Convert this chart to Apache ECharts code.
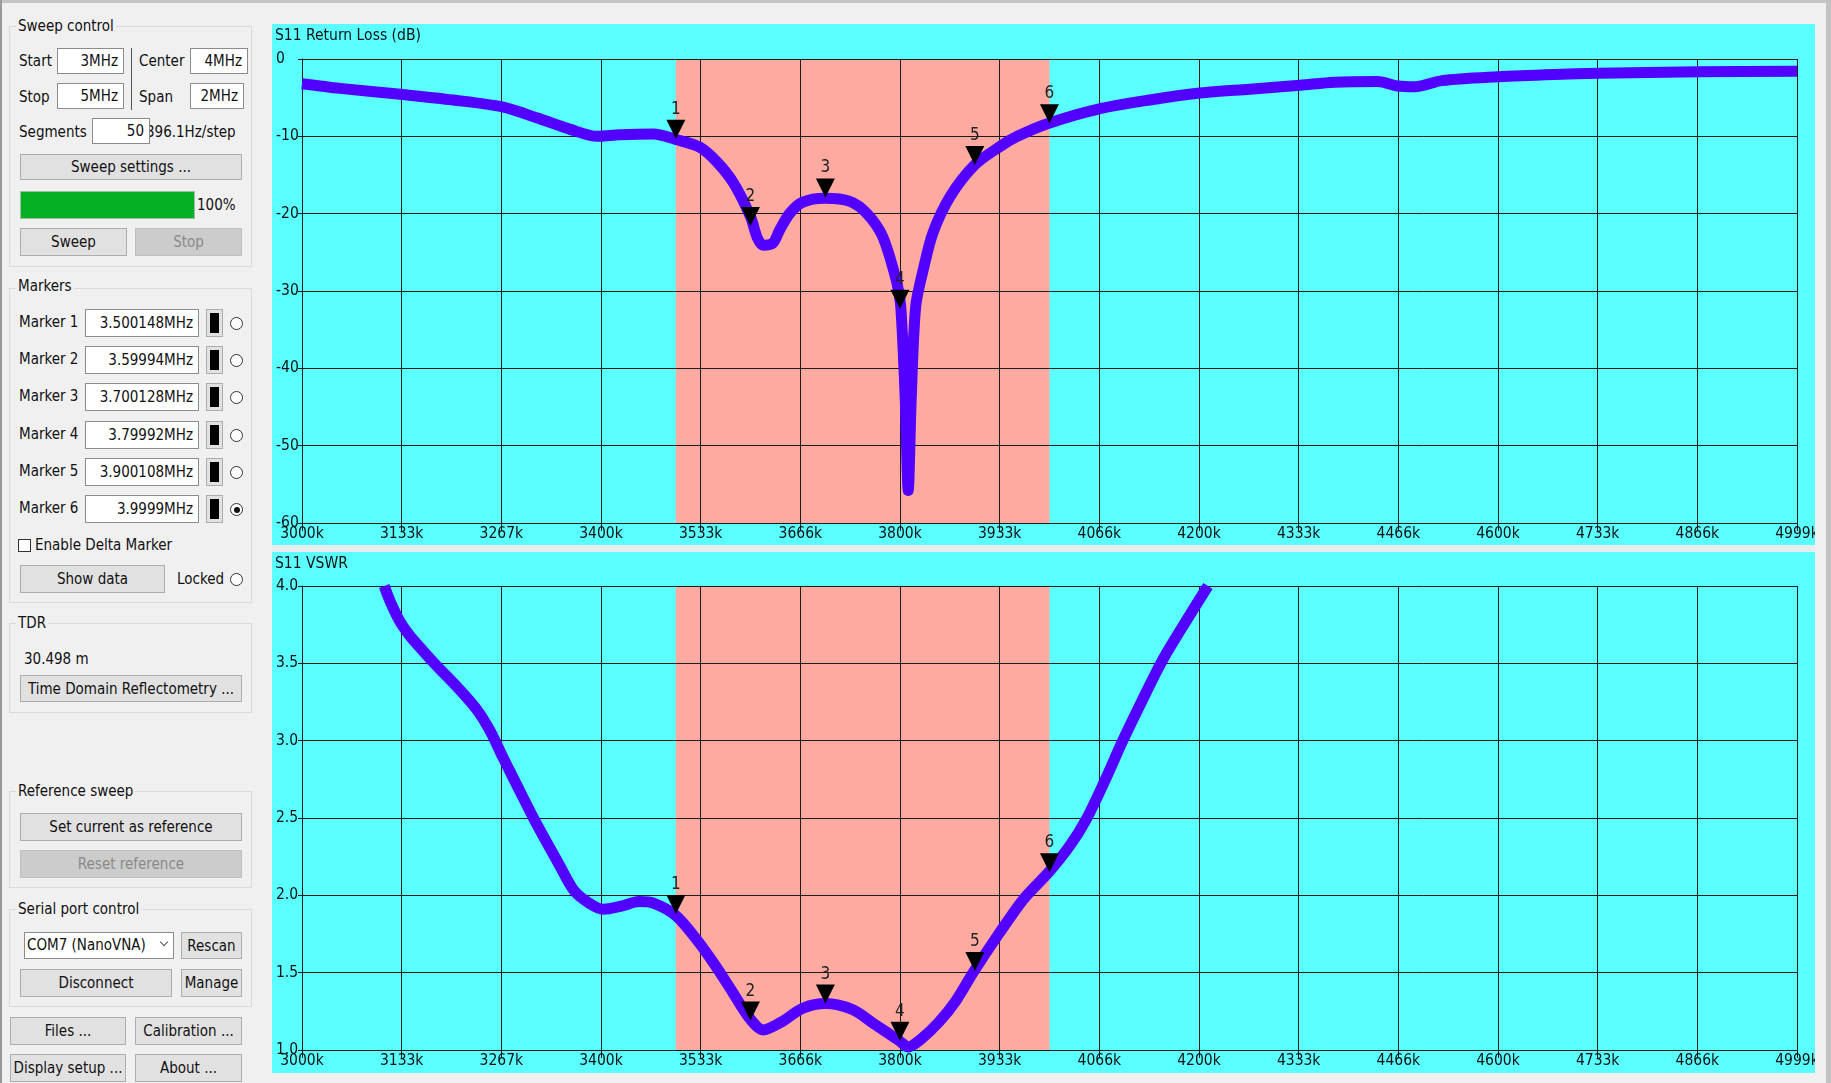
<!DOCTYPE html>
<html>
<head>
<meta charset="utf-8">
<script src="https://cdn.jsdelivr.net/npm/echarts@6/dist/echarts.min.js"></script>
<style>
html,body{margin:0;padding:0}
body{width:1831px;height:1083px;background:#f0f0f0;overflow:hidden;position:relative;
 font-family:'DejaVu Sans Condensed','DejaVu Sans',sans-serif;font-stretch:condensed;font-size:15px;color:#111}
.a{position:absolute;white-space:nowrap;line-height:17px}
.g{position:absolute;border:1px solid #dadada;box-sizing:border-box}
.gt{position:absolute;background:#f0f0f0;padding:0 2px;line-height:17px;white-space:nowrap}
.in{position:absolute;background:#fff;border:1px solid #8c8c8c;box-sizing:border-box;display:flex;align-items:center;justify-content:flex-end;padding-right:5px;white-space:nowrap}
.bt{position:absolute;background:#e1e1e1;border:1px solid #adadad;box-sizing:border-box;display:flex;align-items:center;justify-content:center;white-space:nowrap}
.ds{background:#cccccc;border-color:#bfbfbf;color:#8a8a8a}
.rd{position:absolute;width:13px;height:13px;border:1px solid #333;border-radius:50%;box-sizing:border-box;background:#fff}
.rd.on::after{content:"";position:absolute;left:2.5px;top:2.5px;width:6px;height:6px;border-radius:50%;background:#111}
.sw{position:absolute;width:17px;height:28px;background:#e1e1e1;border:1px solid #adadad;box-sizing:border-box}
.sw::after{content:"";position:absolute;left:3px;top:3px;width:9px;height:20px;background:#000}
.chart{position:absolute;background:#5affff}
</style>
</head>
<body>
<!-- window frame bits -->
<div style="position:absolute;left:0;top:0;width:1831px;height:3px;background:#c4c4c4"></div>
<div style="position:absolute;left:0;top:0;width:2px;height:1083px;background:#9a9a9a"></div>
<div style="position:absolute;left:1826px;top:0;width:5px;height:1083px;background:#c2c2c2"></div>
<div style="position:absolute;left:272px;top:545px;width:1543px;height:7px;background:#e8eeee"></div>

<!-- Sweep control -->
<div class="g" style="left:9px;top:26px;width:243px;height:241px"></div>
<div class="gt" style="left:16px;top:18px">Sweep control</div>
<div class="a" style="left:19px;top:53px">Start</div>
<div class="in" style="left:57px;top:48px;width:67px;height:26px">3MHz</div>
<div style="position:absolute;left:131px;top:48px;width:1px;height:62px;background:#555"></div>
<div class="a" style="left:139px;top:53px">Center</div>
<div class="in" style="left:190px;top:48px;width:58px;height:26px">4MHz</div>
<div class="a" style="left:19px;top:89px">Stop</div>
<div class="in" style="left:57px;top:83px;width:67px;height:26px">5MHz</div>
<div class="a" style="left:139px;top:89px">Span</div>
<div class="in" style="left:190px;top:83px;width:54px;height:26px">2MHz</div>
<div class="a" style="left:19px;top:124px">Segments</div>
<div class="a" style="left:146px;top:124px">396.1Hz/step</div>
<div class="in" style="left:92px;top:118px;width:58px;height:26px">50</div>
<div class="bt" style="left:20px;top:154px;width:222px;height:26px">Sweep settings ...</div>
<div style="position:absolute;left:20px;top:191px;width:175px;height:28px;background:#06b025;border:1px solid #9fbfa5;box-sizing:border-box"></div>
<div class="a" style="left:197px;top:197px">100%</div>
<div class="bt" style="left:20px;top:228px;width:107px;height:28px">Sweep</div>
<div class="bt ds" style="left:135px;top:228px;width:107px;height:28px">Stop</div>

<!-- Markers -->
<div class="g" style="left:9px;top:288px;width:243px;height:315px"></div>
<div class="gt" style="left:16px;top:278px">Markers</div>
<div id="markerRows"></div>
<div style="position:absolute;left:18px;top:539px;width:13px;height:13px;border:1px solid #333;box-sizing:border-box;background:#fff"></div>
<div class="a" style="left:35px;top:537px">Enable Delta Marker</div>
<div class="bt" style="left:20px;top:565px;width:145px;height:28px">Show data</div>
<div class="a" style="left:177px;top:571px">Locked</div>
<div class="rd" style="left:230px;top:573px"></div>

<!-- TDR -->
<div class="g" style="left:9px;top:623px;width:243px;height:90px"></div>
<div class="gt" style="left:16px;top:615px">TDR</div>
<div class="a" style="left:24px;top:651px">30.498 m</div>
<div class="bt" style="left:20px;top:675px;width:222px;height:27px">Time Domain Reflectometry ...</div>

<!-- Reference sweep -->
<div class="g" style="left:9px;top:791px;width:243px;height:97px"></div>
<div class="gt" style="left:16px;top:783px">Reference sweep</div>
<div class="bt" style="left:20px;top:813px;width:222px;height:28px">Set current as reference</div>
<div class="bt ds" style="left:20px;top:850px;width:222px;height:28px">Reset reference</div>

<!-- Serial port control -->
<div class="g" style="left:9px;top:909px;width:243px;height:98px"></div>
<div class="gt" style="left:16px;top:901px">Serial port control</div>
<div style="position:absolute;left:24px;top:932px;width:150px;height:27px;background:#fff;border:1px solid #8c8c8c;box-sizing:border-box"></div>
<div class="a" style="left:27px;top:937px">COM7 (NanoVNA)</div>
<div style="position:absolute;left:161px;top:939px;width:5px;height:5px;border-right:1px solid #555;border-bottom:1px solid #555;transform:rotate(45deg)"></div>
<div class="bt" style="left:181px;top:932px;width:61px;height:27px">Rescan</div>
<div class="bt" style="left:20px;top:969px;width:152px;height:28px">Disconnect</div>
<div class="bt" style="left:181px;top:969px;width:61px;height:28px">Manage</div>

<div class="bt" style="left:10px;top:1017px;width:116px;height:28px">Files ...</div>
<div class="bt" style="left:135px;top:1017px;width:107px;height:28px">Calibration ...</div>
<div class="bt" style="left:10px;top:1054px;width:116px;height:28px">Display setup ...</div>
<div class="bt" style="left:135px;top:1054px;width:107px;height:28px">About ...</div>

<div id="c1" class="chart" style="left:272px;top:24px;width:1543px;height:521px"></div>
<div id="c2" class="chart" style="left:272px;top:552px;width:1543px;height:521px"></div>

<script>
// ---------------- data ----------------
const sweepStartMHz = 3.0;
const sweepStopMHz = 5.0;
const xDivisions = 15;
const xTickLabels = ['3000k','3133k','3267k','3400k','3533k','3666k','3800k','3933k',
  '4066k','4200k','4333k','4466k','4600k','4733k','4866k','4999k'];
const bandMHz = [3.5, 4.0];

const markerNames = ['1','2','3','4','5','6'];
const markerLabels = ['Marker 1','Marker 2','Marker 3','Marker 4','Marker 5','Marker 6'];
const markerFreqText = ['3.500148MHz','3.59994MHz','3.700128MHz','3.79992MHz','3.900108MHz','3.9999MHz'];
const markerFreqMHz = [3.500148, 3.59994, 3.700128, 3.79992, 3.900108, 3.9999];
const markerRL = [-10.3, -21.6, -17.9, -32.3, -13.7, -8.3];
const markerVSWR = [1.88, 1.19, 1.30, 1.06, 1.51, 2.15];

const rlFreqMHz = [3.000, 3.051, 3.135, 3.202, 3.268, 3.314, 3.359, 3.395, 3.425, 3.470,
  3.500, 3.532, 3.555, 3.577, 3.600, 3.609, 3.617, 3.630, 3.639, 3.653,
  3.670, 3.700, 3.733, 3.756, 3.777, 3.796, 3.801, 3.807, 3.811, 3.815,
  3.821, 3.831, 3.844, 3.867, 3.900, 3.934, 3.957, 3.999, 4.064, 4.134,
  4.201, 4.268, 4.335, 4.381, 4.439, 4.466, 4.489, 4.525, 4.600, 4.675,
  4.734, 4.868, 5.000];
const rlDb = [-3.2, -3.8, -4.6, -5.3, -6.2, -7.6, -9.1, -10.0, -9.8, -9.7,
  -10.4, -11.4, -13.3, -16.0, -20.4, -23.1, -24.1, -23.8, -22.1, -19.9,
  -18.5, -18.0, -18.4, -20.0, -23.0, -29.0, -32.0, -44.0, -55.8, -44.0,
  -32.0, -27.3, -22.5, -17.8, -13.7, -11.3, -10.0, -8.3, -6.5, -5.3,
  -4.4, -3.9, -3.4, -3.0, -2.9, -3.5, -3.6, -2.8, -2.3, -2.0,
  -1.85, -1.65, -1.6];

const vswrFreqMHz = [3.110, 3.118, 3.131, 3.144, 3.162, 3.181, 3.207, 3.234, 3.252, 3.269,
  3.296, 3.314, 3.345, 3.364, 3.384, 3.403, 3.427, 3.451, 3.470, 3.500,
  3.527, 3.551, 3.574, 3.598, 3.617, 3.641, 3.670, 3.701, 3.737, 3.765,
  3.799, 3.811, 3.828, 3.852, 3.875, 3.899, 3.932, 3.966, 3.999, 4.027,
  4.049, 4.073, 4.098, 4.124, 4.150, 4.181, 4.212];
const vswr = [4.00, 3.90, 3.77, 3.68, 3.58, 3.48, 3.35, 3.20, 3.06, 2.89,
  2.63, 2.46, 2.19, 2.03, 1.95, 1.91, 1.93, 1.96, 1.95, 1.87,
  1.72, 1.56, 1.39, 1.21, 1.13, 1.18, 1.27, 1.30, 1.26, 1.17,
  1.06, 1.02, 1.07, 1.18, 1.32, 1.51, 1.75, 1.98, 2.15, 2.32,
  2.49, 2.73, 3.00, 3.26, 3.51, 3.76, 4.00];

// ---------------- left panel marker rows ----------------
const rowCenters = [323, 360, 397, 435, 472, 509];
let rowsHtml = '';
markerLabels.forEach((lab, i) => {
  const c = rowCenters[i];
  rowsHtml += `<div class="a" style="left:19px;top:${c-9}px">${lab}</div>`;
  rowsHtml += `<div class="in" style="left:85px;top:${c-14}px;width:114px;height:28px">${markerFreqText[i]}</div>`;
  rowsHtml += `<div class="sw" style="left:206px;top:${c-14}px"></div>`;
  rowsHtml += `<div class="rd${i===5?' on':''}" style="left:230px;top:${c-6}px"></div>`;
});
document.getElementById('markerRows').innerHTML = rowsHtml;

// ---------------- charts ----------------
const FONT = "'DejaVu Sans Condensed','DejaVu Sans',sans-serif";
const GRID_COLOR = '#1c1c1c';
const TRACE_COLOR = '#5200ff';
const BAND_COLOR = '#ffaaa0';
const divPerMHz = xDivisions / (sweepStopMHz - sweepStartMHz);
const toDiv = f => (f - sweepStartMHz) * divPerMHz;

function buildOption(title, yMin, yMax, yStep, yFmt, freqs, vals, mVals, gridTop, gridBottom) {
  const line = {color: GRID_COLOR, width: 1};
  return {
    animation: false,
    title: {text: title, left: 3, top: 4, padding: 0,
      textStyle: {fontSize: 15.5, fontWeight: 'normal', color: '#111', fontFamily: FONT}},
    grid: {left: 30, right: 18, top: gridTop, bottom: gridBottom, containLabel: false, outerBoundsMode: 'none'},
    xAxis: {
      type: 'value', min: 0, max: xDivisions, interval: 1,
      axisLine: {show: true, onZero: false, lineStyle: line},
      axisTick: {show: true, length: 8, lineStyle: line},
      splitLine: {show: true, lineStyle: line},
      axisLabel: {margin: 3, color: '#111', fontSize: 15.5, fontFamily: FONT,
        formatter: v => xTickLabels[Math.round(v)] || ''}
    },
    yAxis: {
      type: 'value', min: yMin, max: yMax, interval: yStep,
      axisLine: {show: true, onZero: false, lineStyle: line},
      axisTick: {show: true, length: 4, lineStyle: line},
      splitLine: {show: true, lineStyle: line},
      axisLabel: {align: 'left', margin: 26, color: '#111', fontSize: 15.5, fontFamily: FONT, formatter: yFmt}
    },
    series: [
      {
        type: 'custom', z: -1, silent: true, clip: true,
        data: [[toDiv(bandMHz[0]), toDiv(bandMHz[1])]],
        renderItem: (params, api) => {
          const a = api.coord([api.value(0), yMax]);
          const b = api.coord([api.value(1), yMin]);
          return {type: 'rect', shape: {x: a[0], y: a[1], width: b[0] - a[0], height: b[1] - a[1]},
            style: {fill: BAND_COLOR}};
        }
      },
      {
        type: 'line', z: 2, silent: true, showSymbol: false, smooth: 0.3,
        data: freqs.map((f, i) => [toDiv(f), vals[i]]),
        lineStyle: {color: TRACE_COLOR, width: 11, join: 'round', cap: 'butt'}
      },
      {
        type: 'scatter', z: 4, silent: true,
        data: markerFreqMHz.map((f, i) => [toDiv(f), mVals[i], markerNames[i]]),
        symbol: 'triangle', symbolSize: [19, 19], symbolRotate: 180, symbolOffset: [0, -9.5],
        itemStyle: {color: '#000', opacity: 1},
        label: {show: true, position: 'top', distance: 2, color: '#222', fontSize: 17, fontFamily: FONT,
          formatter: p => p.data[2]}
      }
    ]
  };
}

const c1 = echarts.init(document.getElementById('c1'), null, {renderer: 'canvas'});
c1.setOption(buildOption('S11 Return Loss (dB)', -60, 0, 10, v => String(v),
  rlFreqMHz, rlDb, markerRL, 35, 22));

const c2 = echarts.init(document.getElementById('c2'), null, {renderer: 'canvas'});
c2.setOption(buildOption('S11 VSWR', 1, 4, 0.5, v => v.toFixed(1),
  vswrFreqMHz, vswr, markerVSWR, 34, 23));
</script>
</body>
</html>
